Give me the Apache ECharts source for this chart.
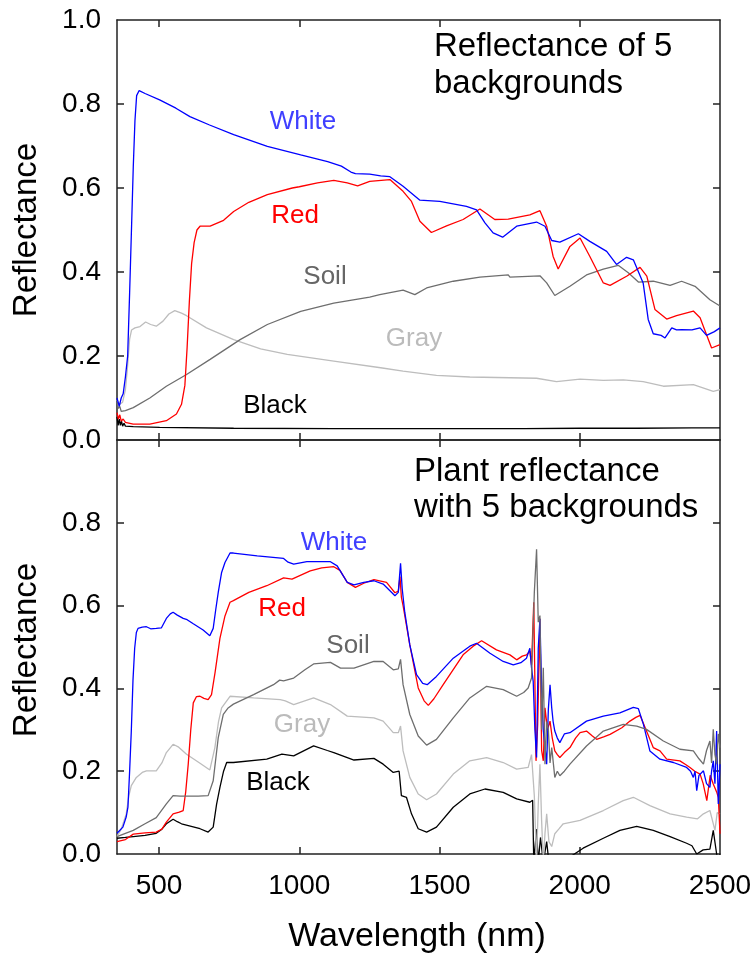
<!DOCTYPE html>
<html>
<head>
<meta charset="utf-8">
<script src="https://cdn.jsdelivr.net/npm/echarts@6/dist/echarts.min.js"></script>
<style>
  html, body { margin: 0; padding: 0; background: #fff; }
  #main { width: 756px; height: 962px; }
</style>
</head>
<body>
<div id="main"></div>
<script>
// wavelength ticks and reflectance ticks
var xTicks = [500, 1000, 1500, 2000, 2500];
var yTicks = [0, 0.2, 0.4, 0.6, 0.8, 1.0];

// top panel: bare backgrounds  [nm, reflectance]
var bgWhite = [[350,0.10],[358,0.08],[365,0.10],[372,0.11],[380,0.15],[388,0.20],[395,0.35],[402,0.51],[408,0.65],[414,0.76],[420,0.82],[429,0.832],[450,0.825],[502,0.81],[560,0.79],[610,0.77],[680,0.75],[766,0.727],[886,0.699],[1005,0.679],[1101,0.663],[1150,0.652],[1184,0.638],[1200,0.634],[1251,0.633],[1290,0.629],[1323,0.627],[1370,0.604],[1430,0.571],[1501,0.568],[1596,0.556],[1632,0.548],[1662,0.517],[1691,0.493],[1725,0.483],[1775,0.509],[1846,0.519],[1876,0.509],[1900,0.475],[1929,0.471],[1995,0.491],[2036,0.473],[2096,0.449],[2131,0.418],[2167,0.435],[2191,0.429],[2226,0.374],[2244,0.287],[2262,0.253],[2290,0.249],[2304,0.243],[2328,0.267],[2345,0.262],[2363,0.263],[2400,0.262],[2429,0.267],[2452,0.249],[2480,0.258],[2500,0.267]];
var bgRed = [[350,0.065],[355,0.05],[360,0.06],[365,0.045],[372,0.05],[380,0.042],[408,0.038],[467,0.038],[526,0.046],[562,0.062],[580,0.085],[592,0.13],[600,0.22],[608,0.33],[616,0.42],[625,0.47],[635,0.50],[646,0.509],[682,0.509],[730,0.523],[766,0.544],[820,0.566],[886,0.584],[975,0.600],[1000,0.603],[1065,0.612],[1123,0.618],[1171,0.612],[1208,0.605],[1251,0.616],[1323,0.620],[1370,0.592],[1400,0.568],[1430,0.521],[1471,0.494],[1525,0.510],[1584,0.525],[1644,0.550],[1697,0.525],[1745,0.526],[1822,0.536],[1858,0.546],[1882,0.509],[1905,0.437],[1923,0.407],[1965,0.461],[2001,0.481],[2036,0.437],[2084,0.374],[2108,0.368],[2167,0.390],[2215,0.411],[2239,0.390],[2268,0.311],[2310,0.288],[2345,0.296],[2405,0.307],[2429,0.291],[2470,0.219],[2500,0.227]];
var bgSoil = [[350,0.09],[355,0.075],[360,0.08],[365,0.068],[372,0.072],[380,0.07],[408,0.077],[467,0.10],[526,0.128],[598,0.156],[682,0.192],[789,0.239],[886,0.275],[1005,0.306],[1123,0.326],[1251,0.340],[1287,0.346],[1370,0.357],[1412,0.346],[1454,0.362],[1549,0.378],[1644,0.388],[1745,0.393],[1751,0.388],[1858,0.391],[1882,0.374],[1911,0.344],[1965,0.366],[2024,0.393],[2084,0.407],[2137,0.416],[2173,0.398],[2209,0.376],[2262,0.378],[2322,0.368],[2363,0.378],[2411,0.366],[2464,0.334],[2500,0.319]];
var bgGray = [[350,0.095],[360,0.085],[370,0.09],[380,0.12],[387,0.17],[395,0.24],[402,0.262],[414,0.267],[432,0.27],[452,0.281],[470,0.275],[490,0.271],[514,0.283],[535,0.300],[556,0.308],[580,0.302],[598,0.296],[669,0.267],[766,0.239],[862,0.217],[957,0.204],[1123,0.188],[1290,0.172],[1370,0.164],[1489,0.154],[1608,0.150],[1846,0.147],[1917,0.139],[2001,0.145],[2084,0.142],[2155,0.143],[2226,0.139],[2298,0.128],[2405,0.132],[2476,0.116],[2500,0.120]];
var bgBlack = [[350,0.055],[354,0.035],[358,0.05],[362,0.035],[366,0.045],[370,0.033],[375,0.04],[380,0.033],[408,0.032],[502,0.030],[766,0.028],[1123,0.027],[1500,0.027],[1800,0.027],[2000,0.028],[2200,0.028],[2400,0.029],[2500,0.029]];

// bottom panel: plant over each background
var plWhite = [[350,0.05],[371,0.065],[383,0.09],[389,0.113],[395,0.2],[401,0.297],[407,0.42],[413,0.497],[419,0.535],[425,0.545],[440,0.548],[455,0.549],[470,0.544],[490,0.545],[508,0.546],[526,0.569],[540,0.580],[550,0.584],[565,0.577],[586,0.569],[600,0.566],[622,0.556],[657,0.541],[681,0.527],[693,0.545],[702,0.59],[711,0.632],[723,0.68],[735,0.704],[753,0.727],[765,0.727],[850,0.72],[944,0.714],[960,0.705],[980,0.700],[1027,0.706],[1111,0.706],[1135,0.696],[1171,0.656],[1195,0.650],[1230,0.656],[1266,0.660],[1299,0.652],[1341,0.624],[1353,0.632],[1361,0.702],[1367,0.640],[1376,0.584],[1394,0.505],[1418,0.433],[1440,0.412],[1456,0.409],[1489,0.429],[1549,0.473],[1608,0.502],[1632,0.509],[1680,0.485],[1727,0.465],[1763,0.457],[1790,0.462],[1810,0.473],[1822,0.497],[1828,0.45],[1834,0.417],[1840,0.30],[1846,0.233],[1852,0.497],[1858,0.568],[1864,0.40],[1870,0.297],[1876,0.26],[1882,0.217],[1888,0.35],[1894,0.409],[1900,0.353],[1905,0.32],[1911,0.297],[1920,0.28],[1929,0.269],[1945,0.29],[1965,0.293],[2024,0.321],[2084,0.333],[2143,0.341],[2191,0.354],[2209,0.351],[2227,0.313],[2250,0.249],[2286,0.229],[2334,0.221],[2381,0.209],[2395,0.20],[2405,0.185],[2411,0.20],[2417,0.153],[2425,0.19],[2441,0.201],[2452,0.17],[2464,0.161],[2470,0.20],[2476,0.225],[2482,0.17],[2488,0.297],[2494,0.121],[2500,0.217]];
var plRed = [[350,0.030],[380,0.035],[408,0.048],[450,0.051],[490,0.053],[510,0.060],[526,0.077],[550,0.097],[572,0.101],[586,0.105],[595,0.15],[604,0.217],[613,0.30],[622,0.365],[633,0.38],[646,0.381],[660,0.376],[675,0.373],[687,0.385],[700,0.44],[717,0.521],[735,0.575],[753,0.608],[765,0.612],[820,0.632],[884,0.648],[944,0.667],[974,0.664],[1039,0.684],[1080,0.691],[1123,0.694],[1145,0.685],[1171,0.656],[1200,0.644],[1230,0.654],[1266,0.663],[1311,0.656],[1341,0.631],[1353,0.635],[1359,0.67],[1364,0.62],[1370,0.60],[1394,0.505],[1424,0.401],[1445,0.37],[1460,0.359],[1480,0.375],[1513,0.409],[1584,0.481],[1620,0.502],[1650,0.515],[1703,0.493],[1751,0.481],[1775,0.469],[1795,0.478],[1810,0.481],[1822,0.49],[1828,0.457],[1836,0.608],[1844,0.225],[1850,0.313],[1858,0.568],[1864,0.25],[1870,0.225],[1876,0.353],[1885,0.30],[1894,0.321],[1902,0.28],[1911,0.249],[1920,0.24],[1929,0.233],[1945,0.245],[1965,0.257],[1985,0.28],[2001,0.293],[2024,0.297],[2045,0.285],[2060,0.277],[2085,0.283],[2108,0.289],[2150,0.305],[2179,0.321],[2200,0.33],[2215,0.335],[2238,0.297],[2262,0.257],[2286,0.249],[2310,0.229],[2357,0.225],[2380,0.215],[2393,0.209],[2410,0.20],[2429,0.193],[2440,0.17],[2453,0.129],[2465,0.19],[2476,0.169],[2488,0.15],[2494,0.137],[2500,0.049]];
var plSoil = [[350,0.042],[380,0.05],[408,0.057],[450,0.073],[490,0.088],[526,0.121],[550,0.141],[575,0.140],[598,0.140],[640,0.140],[675,0.141],[693,0.177],[711,0.281],[729,0.337],[745,0.352],[765,0.362],[837,0.385],[908,0.409],[930,0.42],[944,0.418],[980,0.425],[1020,0.445],[1051,0.459],[1111,0.463],[1147,0.449],[1195,0.449],[1266,0.465],[1299,0.465],[1335,0.445],[1353,0.447],[1361,0.47],[1370,0.409],[1394,0.337],[1424,0.285],[1454,0.263],[1489,0.277],[1549,0.329],[1608,0.377],[1668,0.405],[1727,0.397],[1775,0.381],[1800,0.39],[1816,0.401],[1828,0.425],[1838,0.632],[1846,0.736],[1852,0.56],[1858,0.576],[1864,0.30],[1870,0.45],[1876,0.217],[1882,0.32],[1888,0.30],[1894,0.22],[1900,0.257],[1911,0.185],[1920,0.20],[1929,0.189],[1945,0.20],[1965,0.217],[2024,0.261],[2084,0.297],[2155,0.313],[2203,0.309],[2238,0.301],[2298,0.273],[2357,0.253],[2405,0.249],[2425,0.23],[2441,0.217],[2452,0.25],[2464,0.273],[2470,0.22],[2476,0.301],[2482,0.24],[2488,0.217],[2494,0.29],[2500,0.257]];
var plGray = [[350,0.042],[365,0.06],[383,0.097],[392,0.14],[401,0.165],[419,0.185],[440,0.197],[455,0.201],[490,0.201],[510,0.22],[526,0.245],[550,0.265],[570,0.258],[598,0.241],[646,0.219],[681,0.203],[699,0.257],[712,0.32],[723,0.353],[753,0.381],[837,0.377],[932,0.373],[950,0.37],[980,0.361],[1051,0.377],[1111,0.361],[1171,0.333],[1266,0.329],[1299,0.321],[1335,0.293],[1353,0.293],[1361,0.309],[1370,0.249],[1394,0.185],[1424,0.145],[1454,0.131],[1489,0.145],[1549,0.193],[1608,0.225],[1668,0.233],[1727,0.221],[1775,0.205],[1816,0.209],[1828,0.24],[1838,0.14],[1846,-0.02],[1852,0.12],[1858,0.217],[1864,0.08],[1870,-0.02],[1876,0.05],[1882,0.097],[1890,0.03],[1900,0.018],[1911,0.049],[1925,0.06],[1941,0.073],[2001,0.081],[2084,0.105],[2155,0.129],[2191,0.137],[2250,0.117],[2322,0.097],[2381,0.089],[2420,0.085],[2441,0.097],[2464,0.105],[2482,0.057],[2490,0.10],[2500,0.097]];
var plBlack = [[350,0.038],[380,0.040],[408,0.042],[450,0.045],[490,0.050],[510,0.06],[526,0.073],[550,0.084],[565,0.078],[580,0.073],[646,0.061],[675,0.053],[693,0.065],[705,0.12],[717,0.161],[730,0.20],[741,0.221],[765,0.221],[884,0.229],[938,0.241],[980,0.237],[1051,0.261],[1100,0.25],[1123,0.245],[1195,0.227],[1266,0.231],[1299,0.217],[1335,0.197],[1356,0.200],[1364,0.141],[1382,0.137],[1400,0.097],[1424,0.061],[1454,0.053],[1489,0.065],[1549,0.113],[1608,0.145],[1662,0.157],[1727,0.149],[1775,0.133],[1822,0.125],[1832,0.13],[1836,-0.02],[1846,0.06],[1852,-0.02],[1860,0.04],[1870,-0.02],[1882,0.03],[1890,-0.02],[1940,-0.02],[1970,-0.005],[2012,0.014],[2084,0.038],[2143,0.057],[2203,0.067],[2262,0.057],[2322,0.042],[2381,0.026],[2400,0.02],[2417,0.0],[2440,0.01],[2464,0.012],[2476,0.057],[2488,0.0],[2494,-0.02],[2500,0.0]];

var FONT = '"Liberation Sans", Arial, sans-serif';
var AXIS_COLOR = '#222';

var chart = echarts.init(document.getElementById('main'));

function xAx(gridIndex, pos, labels) {
  return {
    type: 'value', gridIndex: gridIndex, position: pos, min: 350, max: 2500,
    axisLine: { show: true, onZero: false, lineStyle: { color: AXIS_COLOR, width: 1.5 } },
    axisTick: { show: true, inside: true, length: 7, customValues: xTicks.slice(0, 4), lineStyle: { color: AXIS_COLOR, width: 1.5 } },
    axisLabel: { show: labels, customValues: xTicks, margin: 18, fontSize: 28, fontFamily: FONT, color: '#000',
      formatter: function (v) { return String(v); } },
    splitLine: { show: false }
  };
}
function yAx(gridIndex, pos, labels, labelVals) {
  return {
    type: 'value', gridIndex: gridIndex, position: pos, min: 0, max: 1, interval: 0.2,
    axisLine: { show: true, onZero: false, lineStyle: { color: AXIS_COLOR, width: 1.5 } },
    axisTick: { show: true, inside: true, length: 7, customValues: [0.2, 0.4, 0.6, 0.8], lineStyle: { color: AXIS_COLOR, width: 1.5 } },
    axisLabel: { show: labels, customValues: labelVals, margin: 16, fontSize: 28, fontFamily: FONT, color: '#000',
      formatter: function (v) { return v.toFixed(1); } },
    splitLine: { show: false }
  };
}

function line(data, color, xi, yi) {
  return {
    type: 'line', data: data, xAxisIndex: xi, yAxisIndex: yi,
    showSymbol: false, symbol: 'none', clip: true,
    lineStyle: { color: color, width: 1.3 }
  };
}

function txt(s, x, y, size, color, align, rot) {
  return {
    type: 'text', x: x, y: y, rotation: rot || 0,
    style: { text: s, font: size + 'px ' + FONT, fill: color,
      align: align || 'center', verticalAlign: 'middle',
      textAlign: align || 'center', textVerticalAlign: 'middle' }
  };
}

var option = {
  animation: false,
  backgroundColor: '#fff',
  grid: [
    { left: 117, top: 20, width: 603, height: 420 },
    { left: 117, top: 440, width: 603, height: 414 }
  ],
  xAxis: [
    xAx(0, 'bottom', false), xAx(0, 'top', false),
    xAx(1, 'bottom', true), xAx(1, 'top', false)
  ],
  yAxis: [
    yAx(0, 'left', true, yTicks), yAx(0, 'right', false, []),
    yAx(1, 'left', true, yTicks.slice(0, 5)), yAx(1, 'right', false, [])
  ],
  series: [
    line(bgBlack, '#000000', 0, 0),
    line(bgGray, '#bdbdbd', 0, 0),
    line(bgSoil, '#6e6e6e', 0, 0),
    line(bgRed, '#ff0000', 0, 0),
    line(bgWhite, '#0000ff', 0, 0),
    line(plBlack, '#000000', 2, 2),
    line(plGray, '#bdbdbd', 2, 2),
    line(plRed, '#ff0000', 2, 2),
    line(plWhite, '#0000ff', 2, 2),
    line(plSoil, '#6e6e6e', 2, 2)
  ],
  graphic: [
    txt('Reflectance', 27, 230, 33, '#000', 'center', Math.PI / 2),
    txt('Reflectance', 27, 650, 33, '#000', 'center', Math.PI / 2),
    txt('Wavelength (nm)', 417, 937, 34, '#000', 'center'),
    txt('Reflectance of 5', 434, 47, 33, '#000', 'left'),
    txt('backgrounds', 434, 84, 33, '#000', 'left'),
    txt('Plant reflectance', 414, 472, 33, '#000', 'left'),
    txt('with 5 backgrounds', 414, 508, 33, '#000', 'left'),
    txt('White', 303, 122, 26, '#3f3fff'),
    txt('Red', 295, 216, 26, '#ff0000'),
    txt('Soil', 325, 277, 26, '#666666'),
    txt('Gray', 414, 339, 26, '#bbbbbb'),
    txt('Black', 275, 406, 26, '#000000'),
    txt('White', 334, 543, 26, '#3f3fff'),
    txt('Red', 282, 609, 26, '#ff0000'),
    txt('Soil', 348, 646, 26, '#666666'),
    txt('Gray', 302, 725, 26, '#bbbbbb'),
    txt('Black', 278, 783, 26, '#000000')
  ]
};

chart.setOption(option);
</script>
</body>
</html>
